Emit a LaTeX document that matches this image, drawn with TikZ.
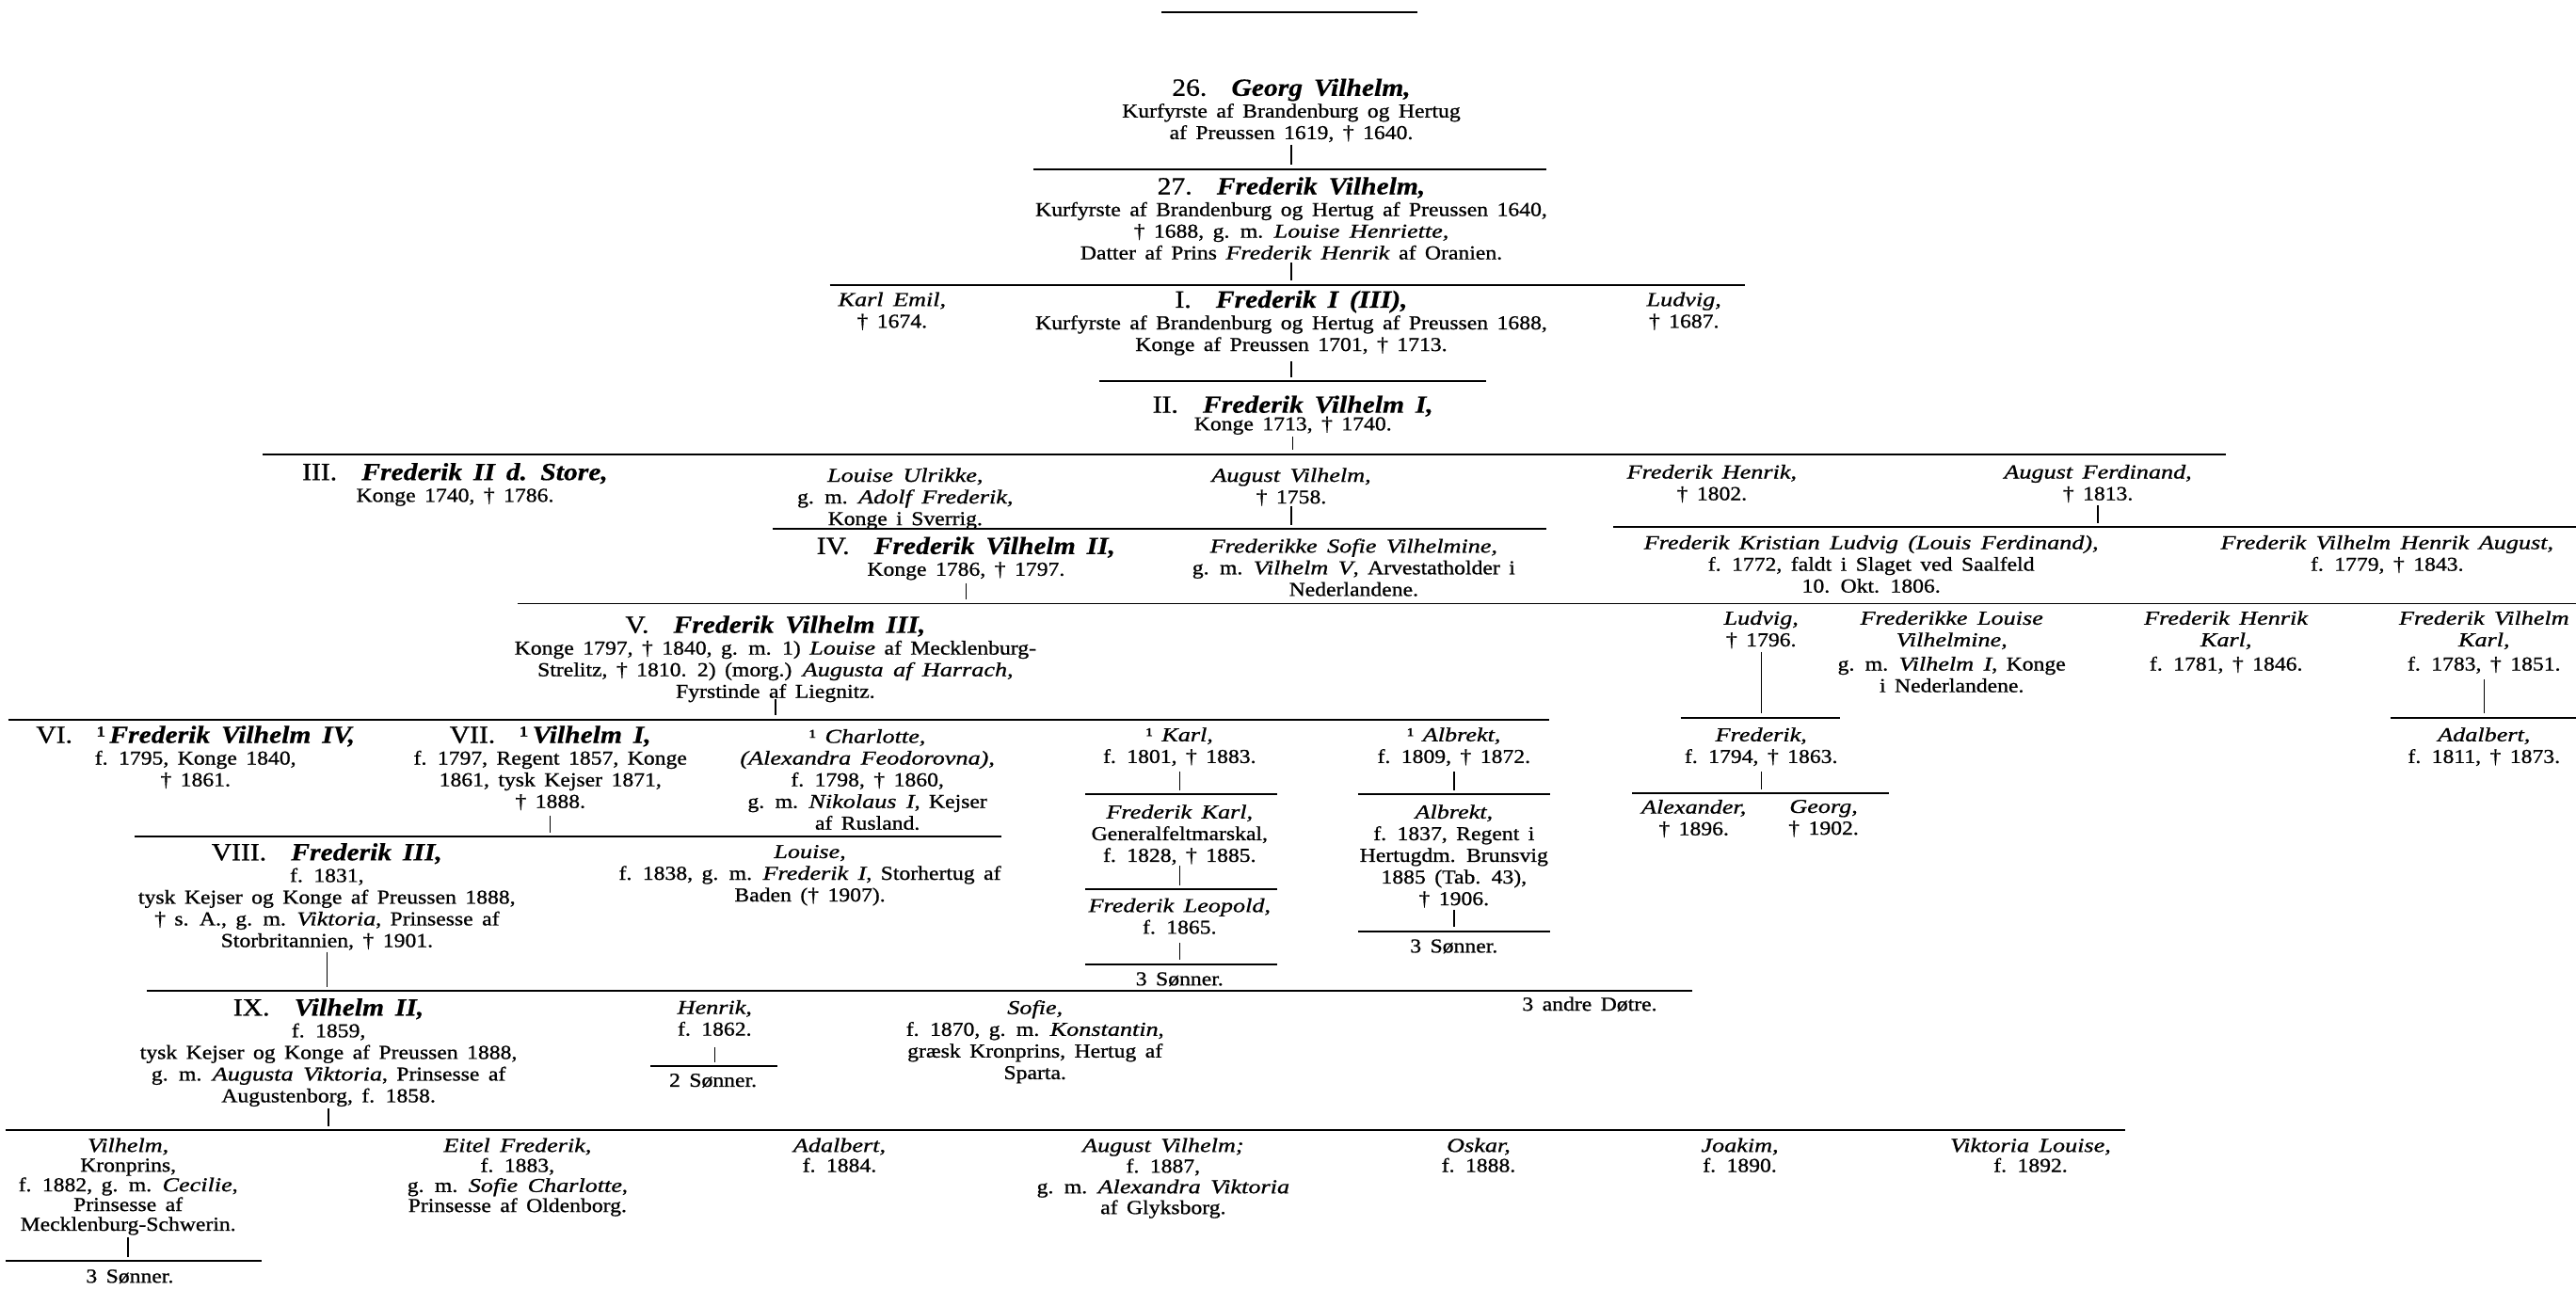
\documentclass[tikz,border=0pt]{standalone}
\usepackage{fontspec}
\setmainfont{Liberation Serif}[
  UprightFeatures={FakeStretch=1.13, FakeBold=0.9},
  ItalicFeatures={FakeStretch=1.25, FakeBold=0.9},
  BoldFeatures={FakeStretch=1.13, FakeBold=0.5},
  BoldItalicFeatures={FakeStretch=1.13, FakeBold=0.5},
  WordSpace=1.6]
\usetikzlibrary{calc}
\newcommand\hdline[2]{{\fontsize{15}{13.2}\selectfont #1\hspace{15pt}\textbf{\textit{#2}}}}
\newcommand\nm[1]{\textit{#1}}
\begin{document}
\begin{tikzpicture}[x=1pt,y=-1pt,
  blk/.style={anchor=north, align=center, inner sep=0pt, yshift=4.2pt, font=\fontsize{12}{13.2}\selectfont},
  hblk/.style={blk, yshift=1.1pt},
  rule/.style={line width=1.1pt},
  tick/.style={line width=0.8pt}]
\useasboundingbox (0,0) rectangle (1568,785);
\fill[white] (0,0) rectangle (1568,785);

% ---------- rules (named end points) ----------
\coordinate (r0a) at (707,7.3);   \coordinate (r0b) at (863,7.3);
\coordinate (r1a) at (629,103);   \coordinate (r1b) at (941.5,103);
\coordinate (r2a) at (505,173.5); \coordinate (r2b) at (1062,173.5);
\coordinate (r3a) at (669,232);   \coordinate (r3b) at (904.5,232);
\coordinate (r4a) at (160,276.5); \coordinate (r4b) at (1355,276.5);
\coordinate (r5a) at (470.5,322); \coordinate (r5b) at (941,322);
\coordinate (r5c) at (982,321);   \coordinate (r5d) at (1568,321);
\coordinate (r6a) at (315,367.5); \coordinate (r6b) at (1568,367.5);
\coordinate (r7a) at (5,438);     \coordinate (r7b) at (943,438);
\coordinate (r7c) at (1023,437);  \coordinate (r7d) at (1120,437);
\coordinate (r7e) at (1455,437);  \coordinate (r7f) at (1568,437);
\coordinate (r8a) at (82,509.5);  \coordinate (r8b) at (609.6,509.5);
\coordinate (r9a) at (660.6,483.5); \coordinate (r9b) at (777.5,483.5);
\coordinate (r9c) at (826.6,483.5); \coordinate (r9d) at (943.6,483.5);
\coordinate (r9e) at (993.6,483);   \coordinate (r9f) at (1150,483);
\coordinate (r10a) at (660.6,541.4); \coordinate (r10b) at (777.5,541.4);
\coordinate (r10c) at (660.6,587);   \coordinate (r10d) at (777.5,587);
\coordinate (r10e) at (826.6,567);   \coordinate (r10f) at (943.6,567);
\coordinate (r11a) at (89.5,603.5);  \coordinate (r11b) at (1030,603.5);
\coordinate (r12a) at (396,649);     \coordinate (r12b) at (473,649);
\coordinate (r13a) at (3.6,688);     \coordinate (r13b) at (1293.6,688);
\coordinate (r14a) at (3.6,767.7);   \coordinate (r14b) at (159,767.7);

\foreach \a/\b in {r0a/r0b,r1a/r1b,r2a/r2b,r3a/r3b,r4a/r4b,r5a/r5b,r5c/r5d,r6a/r6b,
  r7a/r7b,r7c/r7d,r7e/r7f,r8a/r8b,r9a/r9b,r9c/r9d,r9e/r9f,r10a/r10b,r10c/r10d,r10e/r10f,
  r11a/r11b,r12a/r12b,r13a/r13b,r14a/r14b}
  \draw[rule] (\a) -- (\b);

% ---------- nodes ----------
\node[hblk] (n26) at (786,53) {\hdline{26.}{Georg Vilhelm,}\\ Kurfyrste af Brandenburg og Hertug\\ af Preussen 1619, † 1640.};
\node[hblk] (n27) at (786,113) {\hdline{27.}{Frederik Vilhelm,}\\ Kurfyrste af Brandenburg og Hertug af Preussen 1640,\\ † 1688, g. m. \nm{Louise Henriette,}\\ Datter af Prins \nm{Frederik Henrik} af Oranien.};
\node[blk] (nKE) at (543,182) {\nm{Karl Emil,}\\ † 1674.};
\node[hblk] (nFI) at (786,182) {\hdline{I.}{Frederik I (III),}\\ Kurfyrste af Brandenburg og Hertug af Preussen 1688,\\ Konge af Preussen 1701, † 1713.};
\node[blk] (nLud0) at (1025,182) {\nm{Ludvig,}\\ † 1687.};
\node[hblk] (nFVI) at (787,246) {\hdline{II.}{Frederik Vilhelm I,}\\[-2.5pt] Konge 1713, † 1740.};

\node[hblk] (nFII) at (277,287) {\hdline{III.}{Frederik II d. Store,}\\ Konge 1740, † 1786.};
\node[blk] (nLU) at (551,289) {\nm{Louise Ulrikke,}\\ g. m. \nm{Adolf Frederik,}\\ Konge i Sverrig.};
\node[blk] (nAV) at (786,289) {\nm{August Vilhelm,}\\ † 1758.};
\node[blk] (nFH) at (1042,287) {\nm{Frederik Henrik,}\\ † 1802.};
\node[blk] (nAF) at (1277,287) {\nm{August Ferdinand,}\\ † 1813.};

\node[hblk] (nFVII) at (588,332) {\hdline{IV.}{Frederik Vilhelm II,}\\ Konge 1786, † 1797.};
\node[blk] (nFSV) at (824,332) {\nm{Frederikke Sofie Vilhelmine,}\\ g. m. \nm{Vilhelm V}, Arvestatholder i\\ Nederlandene.};
\node[blk] (nLF) at (1139,330) {\nm{Frederik Kristian Ludvig (Louis Ferdinand),}\\ f. 1772, faldt i Slaget ved Saalfeld\\ 10. Okt. 1806.};
\node[blk] (nFVHA) at (1453,330) {\nm{Frederik Vilhelm Henrik August,}\\ f. 1779, † 1843.};

\node[hblk] (nFVIII) at (472,380) {\hdline{V.}{Frederik Vilhelm III,}\\ Konge 1797, † 1840, g. m. 1) \nm{Louise} af Mecklenburg-\\ Strelitz, † 1810. 2) (morg.) \nm{Augusta af Harrach,}\\ Fyrstinde af Liegnitz.};
\node[blk] (nLud) at (1072,376) {\nm{Ludvig,}\\ † 1796.};
\node[blk] (nFLV) at (1188,376) {\nm{Frederikke Louise}\\ \nm{Vilhelmine,}\\[1.5pt] g. m. \nm{Vilhelm I}, Konge\\ i Nederlandene.};
\node[blk] (nFHK) at (1355,376) {\nm{Frederik Henrik}\\ \nm{Karl,}\\[1.5pt] f. 1781, † 1846.};
\node[blk] (nFVK) at (1512,376) {\nm{Frederik Vilhelm}\\ \nm{Karl,}\\[1.5pt] f. 1783, † 1851.};

\node[hblk] (nFVIV) at (119,447) {\hdline{VI.}{\textup{\textmd{¹}}\,Frederik Vilhelm IV,}\\ f. 1795, Konge 1840,\\ † 1861.};
\node[hblk] (nVI) at (335,447) {\hdline{VII.}{\textup{\textmd{¹}}\,Vilhelm I,}\\ f. 1797, Regent 1857, Konge\\ 1861, tysk Kejser 1871,\\ † 1888.};
\node[blk] (nCh) at (528,448) {¹ \nm{Charlotte,}\\ \nm{(Alexandra Feodorovna),}\\ f. 1798, † 1860,\\ g. m. \nm{Nikolaus I}, Kejser\\ af Rusland.};
\node[blk] (nKarl) at (718,447) {¹ \nm{Karl,}\\ f. 1801, † 1883.};
\node[blk] (nAlb) at (885,447) {¹ \nm{Albrekt,}\\ f. 1809, † 1872.};
\node[blk] (nFred) at (1072,447) {\nm{Frederik,}\\ f. 1794, † 1863.};
\node[blk] (nAdalb) at (1512,447) {\nm{Adalbert,}\\ f. 1811, † 1873.};
\node[blk] (nFK) at (718,494) {\nm{Frederik Karl,}\\ Generalfeltmarskal,\\ f. 1828, † 1885.};
\node[blk] (nAlb2) at (885,494) {\nm{Albrekt,}\\ f. 1837, Regent i\\ Hertugdm. Brunsvig\\ 1885 (Tab. 43),\\ † 1906.};
\node[blk] (nAlex) at (1031,491) {\nm{Alexander,}\\ † 1896.};
\node[blk] (nGeorg) at (1110,491) {\nm{Georg,}\\ † 1902.};
\node[blk] (nFL) at (718,551) {\nm{Frederik Leopold,}\\ f. 1865.};
\node[blk] (nS3a) at (718,596) {3 Sønner.};
\node[blk] (nS3b) at (885,576) {3 Sønner.};

\node[hblk] (nVIII) at (199,518.5) {\hdline{VIII.}{Frederik III,}\\ f. 1831,\\ tysk Kejser og Konge af Preussen 1888,\\ † s. A., g. m. \nm{Viktoria}, Prinsesse af\\ Storbritannien, † 1901.};
\node[blk] (nLouise) at (493,518.5) {\nm{Louise,}\\ f. 1838, g. m. \nm{Frederik I}, Storhertug af\\ Baden († 1907).};

\node[hblk] (nIX) at (200,613) {\hdline{IX.}{Vilhelm II,}\\ f. 1859,\\ tysk Kejser og Konge af Preussen 1888,\\ g. m. \nm{Augusta Viktoria}, Prinsesse af\\ Augustenborg, f. 1858.};
\node[blk] (nHen) at (435,613) {\nm{Henrik,}\\ f. 1862.};
\node[blk] (nS2) at (434,657.7) {2 Sønner.};
\node[blk] (nSofie) at (630,613) {\nm{Sofie,}\\ f. 1870, g. m. \nm{Konstantin},\\ græsk Kronprins, Hertug af\\ Sparta.};
\node[blk] (nAndre) at (967.6,611) {3 andre Døtre.};

\node[blk, font=\fontsize{12}{12}\selectfont] (nVilh) at (78,697) {\nm{Vilhelm,}\\ Kronprins,\\ f. 1882, g. m. \nm{Cecilie},\\ Prinsesse af\\ Mecklenburg-Schwerin.};
\node[blk] (nS3c) at (79,777) {3 Sønner.};
\node[blk, font=\fontsize{12}{12.2}\selectfont] (nEitel) at (315,697) {\nm{Eitel Frederik,}\\ f. 1883,\\ g. m. \nm{Sofie Charlotte},\\ Prinsesse af Oldenborg.};
\node[blk, font=\fontsize{12}{12.2}\selectfont] (nAdalb2) at (511,697) {\nm{Adalbert,}\\ f. 1884.};
\node[blk, font=\fontsize{12}{12.6}\selectfont] (nAugV) at (708,697) {\nm{August Vilhelm;}\\ f. 1887,\\ g. m. \nm{Alexandra Viktoria}\\ af Glyksborg.};
\node[blk, font=\fontsize{12}{12.2}\selectfont] (nOskar) at (900,697) {\nm{Oskar,}\\ f. 1888.};
\node[blk, font=\fontsize{12}{12.2}\selectfont] (nJoakim) at (1059,697) {\nm{Joakim,}\\ f. 1890.};
\node[blk, font=\fontsize{12}{12.2}\selectfont] (nVL) at (1236,697) {\nm{Viktoria Louise,}\\ f. 1892.};

% ---------- descent ticks (parent node -> rule); \l = distance of tick top above the rule ----------
\foreach \n/\r/\l in {n26/r1a/15, n27/r2a/13.5, nFI/r3a/12, nFVI/r4a/10.5, nAV/r5a/14, nAF/r5c/13.5,
  nFVII/r6a/12.5, nFVIII/r7a/12.3, nLud/r7c/40, nFVK/r7e/23.4, nVI/r8a/13, nKarl/r9a/13.5,
  nAlb/r9c/13.5, nFred/r9e/13, nFK/r10a/14.4, nFL/r10c/13, nAlb2/r10e/13, nVIII/r11a/24,
  nHen/r12a/11.4, nIX/r13a/13, nVilh/r14a/14.5}
  \draw[tick] ($(\n.south |- \r)+(0,-\l)$) -- ($(\n.south |- \r)+(0,-2.5)$);
\end{tikzpicture}
\end{document}
